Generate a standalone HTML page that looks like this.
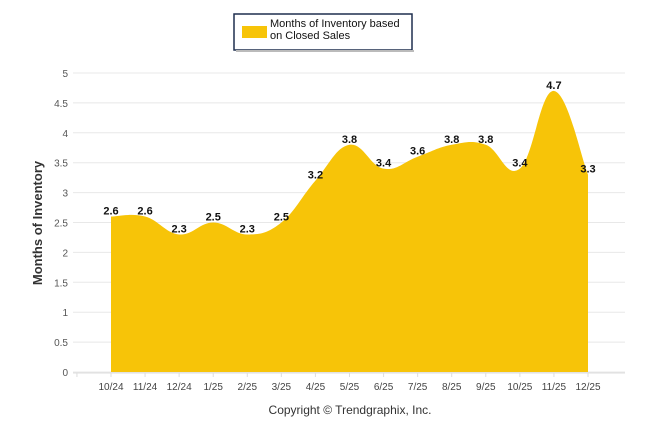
<!DOCTYPE html>
<html><head><meta charset="utf-8"><style>
body{margin:0;background:#fff;font-family:"Liberation Sans",sans-serif}
svg text{font-family:"Liberation Sans",sans-serif}
</style></head><body>
<svg id="c" width="646" height="434">
<rect x="234" y="14" width="178" height="36" fill="#fff" stroke="#1f2f4f" stroke-width="1.5"/>
<rect x="236" y="50" width="178" height="2" fill="#bbb"/>
<rect x="242" y="26" width="25" height="12" fill="#f7c408"/>
<text x="270" y="27" font-size="11" fill="#111">Months of Inventory based</text>
<text x="270" y="39" font-size="11" fill="#111">on Closed Sales</text>
<g id="grid"></g><g id="area"></g><g id="labels"></g>
<text transform="translate(42,223) rotate(-90)" text-anchor="middle" font-size="13" font-weight="bold" fill="#333">Months of Inventory</text>
<text x="350" y="414" text-anchor="middle" font-size="12" fill="#333">Copyright © Trendgraphix, Inc.</text>
</svg>
<script>
const categories=["10/24","11/24","12/24","1/25","2/25","3/25","4/25","5/25","6/25","7/25","8/25","9/25","10/25","11/25","12/25"];
const values=[2.6,2.6,2.3,2.5,2.3,2.5,3.2,3.8,3.4,3.6,3.8,3.8,3.4,4.7,3.3];
const yTicks=[0,0.5,1,1.5,2,2.5,3,3.5,4,4.5,5];
const NS="http://www.w3.org/2000/svg";
const x=i=>111+i*(588-111)/(categories.length-1);
const y=v=>372-v*(372-73)/5;
function mk(t,a,p){const e=document.createElementNS(NS,t);for(const k in a)e.setAttribute(k,a[k]);p.appendChild(e);return e;}
const g=document.getElementById('grid');
yTicks.forEach(t=>{
 const l=mk('line',{x1:73,x2:625,y1:y(t),y2:y(t),stroke:'#e8e8e8'},g);
 
 
 const tx=mk('text',{x:68,y:y(t)+4,'text-anchor':'end','font-size':10,fill:'#555'},g);
 tx.textContent=t;
 
 
});
mk('line',{x1:73,x2:625,y1:373,y2:373,stroke:'#ddd'},g);
for(let i=-1;i<categories.length;i++){mk('line',{x1:x(i),x2:x(i),y1:373,y2:377,stroke:'#ddd'},g);}
categories.forEach((c,i)=>{
 const t=mk('text',{x:x(i),y:390,'text-anchor':'middle','font-size':10,fill:'#444'},g);
 t.textContent=c;
 
 
});
const P=values.map((v,i)=>[x(i),y(v)]);
let d=`M${P[0][0]},${y(0)}L${P[0][0]},${P[0][1]}`;
const k=0.2;
for(let i=0;i<P.length-1;i++){
 const p0=P[Math.max(0,i-1)],p1=P[i],p2=P[i+1],p3=P[Math.min(P.length-1,i+2)];
 const c1=[p1[0]+(p2[0]-p0[0])*k,p1[1]+(p2[1]-p0[1])*k];
 const c2=[p2[0]-(p3[0]-p1[0])*k,p2[1]-(p3[1]-p1[1])*k];
 d+=`C${c1[0]},${c1[1]} ${c2[0]},${c2[1]} ${p2[0]},${p2[1]}`;
}
d+=`L${P[P.length-1][0]},${y(0)}Z`;
const a=mk('path',{d:d,fill:'#f7c408'},document.getElementById('area'));


const L=document.getElementById('labels');
values.forEach((v,i)=>{
 const t=mk('text',{x:x(i),y:y(v)-2,'text-anchor':'middle','font-size':11,'font-weight':'bold',fill:'#111'},L);
 t.textContent=v.toFixed(1);
 
 
});
</script>
</body></html>
